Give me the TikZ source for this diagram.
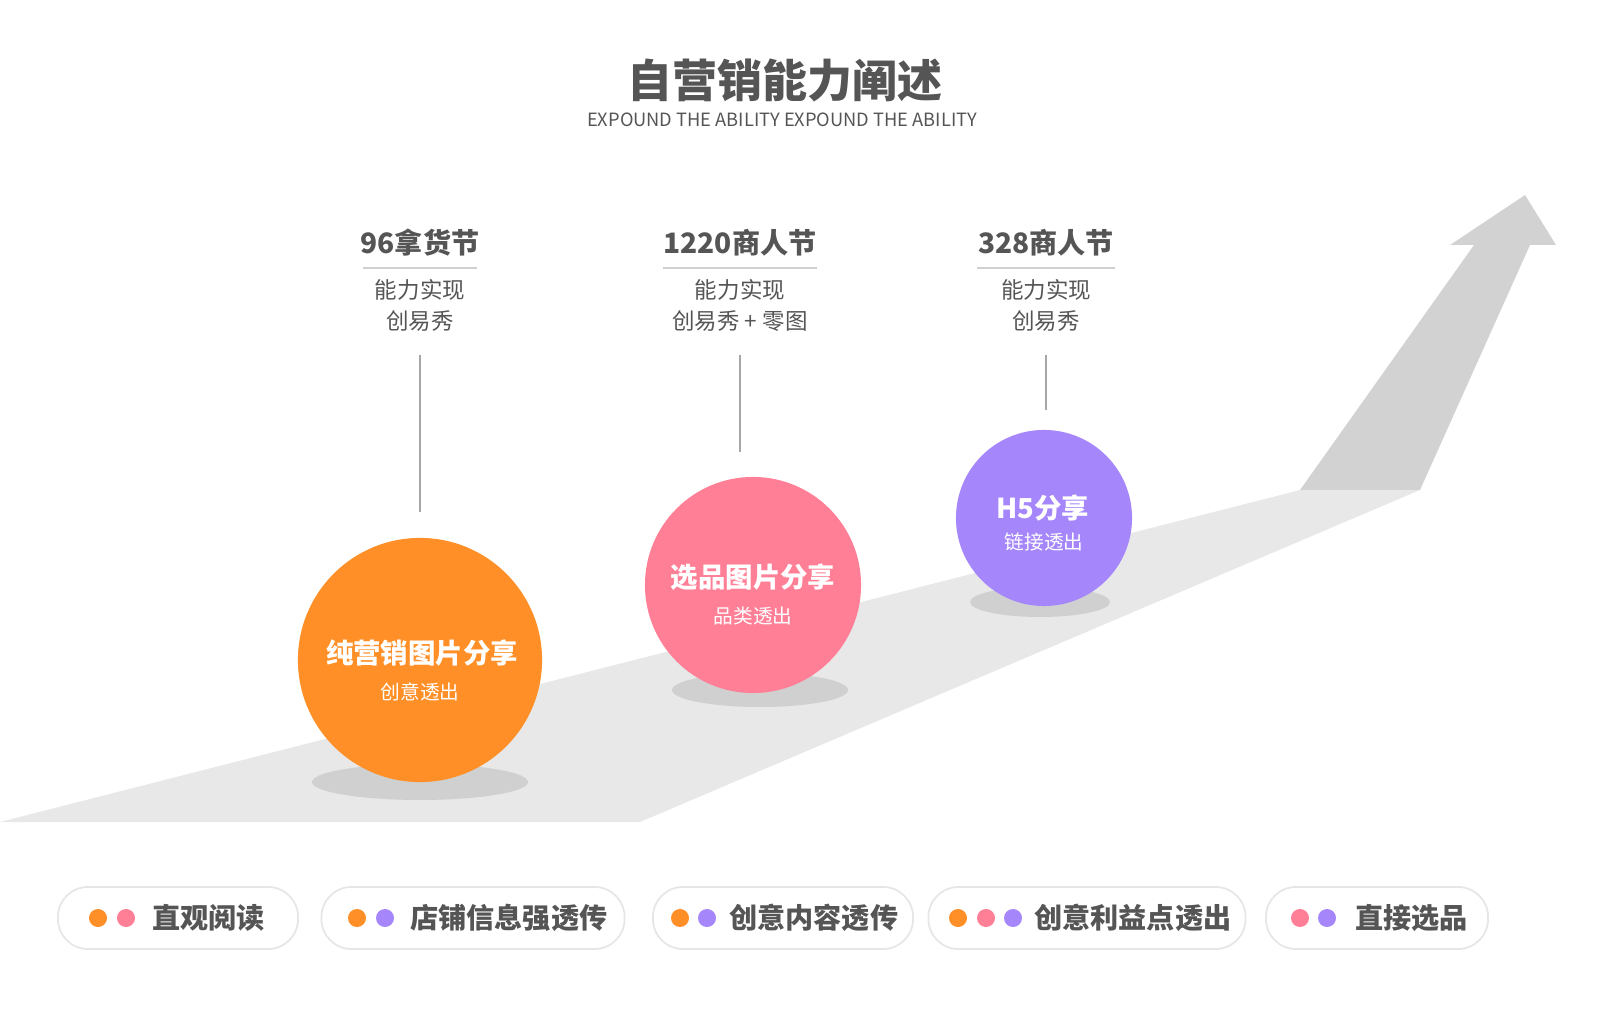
\documentclass[tikz,border=0pt]{standalone}
\usepackage{fontspec}
\setmainfont{Noto Sans CJK SC}
\usetikzlibrary{positioning}
\definecolor{txt}{HTML}{555555}
\definecolor{road}{HTML}{E8E8E8}
\definecolor{arr}{HTML}{D2D2D2}
\definecolor{shad}{HTML}{D0D0D0}
\definecolor{orng}{HTML}{FF8F26}
\definecolor{pnk}{HTML}{FF7F96}
\definecolor{prpl}{HTML}{A586FB}
\definecolor{pillline}{HTML}{E6E6E6}
\tikzset{
  evtitle/.style={font=\fontsize{8}{9}\selectfont\bfseries, text=txt},
  evline/.style={font=\fontsize{6.4}{9}\selectfont, text=txt, align=center},
  ball/.style={circle, minimum size=#1, inner sep=0pt, align=center, text=white},
  pill/.style={draw=pillline, line width=0.5pt, rounded corners=0.3cm, minimum height=0.62cm},
  dot/.style={circle, minimum size=0.18cm, inner sep=0pt},
  pilltext/.style={font=\fontsize{8}{9}\selectfont\bfseries, text=txt, anchor=west}
}
\begin{document}
\begin{tikzpicture}[x=0.01cm, y=-0.01cm]
  \useasboundingbox (0,0) rectangle (1600,1022);
  % road and arrow
  \fill[road](0,822)--(1300,490)--(1420,490)--(640,822)--cycle;
  \fill[arr](1300,490)--(1474,245)--(1450,245)--(1525,195)--(1556,245)
  --(1530,245)--(1420,490)--cycle;
  % title
  \node[font=\fontsize{12.8}{14}\selectfont\bfseries, text=txt] (title) at (785,80) {自营销能力阐述};
  \node[font=\fontsize{5.2}{6}\selectfont, text=txt] (sub) at (782,120) {EXPOUND THE ABILITY EXPOUND THE ABILITY};
  % events
  \foreach \x/\t/\b/\w [count=\i] in {420/96拿货节/创易秀/57, 740/1220商人节/创易秀 + 零图/77, 1046/328商人节/创易秀/69}{
    \node[evtitle] (ev\i) at (\x,243) {\t};
    \draw[shad, line width=0.6pt] (\x-\w,268)--(\x+\w,268);
    \node[evline] (evA\i) at (\x,290) {能力实现};
    \node[evline] (evB\i) at (\x,321) {\b};
  }
  \draw[shad!80!black, line width=0.5pt] (420,355)--(420,512);
  \draw[shad!80!black, line width=0.5pt] (740,355)--(740,452);
  \draw[shad!80!black, line width=0.5pt] (1046,355)--(1046,410);
  % shadows
  \fill[shad] (420,782) ellipse[x radius=108, y radius=18];
  \fill[shad] (760,690) ellipse[x radius=88, y radius=17];
  \fill[shad] (1040,602) ellipse[x radius=70, y radius=15];
  % balls
  \node[ball=2.44cm, fill=orng] (b1) at (420,660) {};
  \node[font=\fontsize{7.8}{9}\selectfont\bfseries, text=white] at (422,653) {纯营销图片分享};
  \node[font=\fontsize{5.6}{7}\selectfont, text=white] at (420,692) {创意透出};
  \node[ball=2.16cm, fill=pnk] (b2) at (753,585) {};
  \node[font=\fontsize{7.8}{9}\selectfont\bfseries, text=white] at (753,577) {选品图片分享};
  \node[font=\fontsize{5.6}{7}\selectfont, text=white] at (753,616) {品类透出};
  \node[ball=1.76cm, fill=prpl] (b3) at (1044,518) {};
  \node[font=\fontsize{7.8}{9}\selectfont\bfseries, text=white] at (1043,508) {H5分享};
  \node[font=\fontsize{5.6}{7}\selectfont, text=white] at (1044,542) {链接透出};
  % pills
  \node[pill, minimum width=2.40cm] (p1) at (178,918) {};
  \node[pill, minimum width=3.03cm] (p2) at (473,918) {};
  \node[pill, minimum width=2.60cm] (p3) at (783,918) {};
  \node[pill, minimum width=3.17cm] (p4) at (1087,918) {};
  \node[pill, minimum width=2.22cm] (p5) at (1377,918) {};
  \node[dot, fill=orng] at (98,918) {};  \node[dot, fill=pnk] at (126,918) {};
  \node[pilltext] at (140,918) {直观阅读};
  \node[dot, fill=orng] at (357,918) {}; \node[dot, fill=prpl] at (385,918) {};
  \node[pilltext] at (398,918) {店铺信息强透传};
  \node[dot, fill=orng] at (680,918) {}; \node[dot, fill=prpl] at (707,918) {};
  \node[pilltext] at (717,918) {创意内容透传};
  \node[dot, fill=orng] at (958,918) {}; \node[dot, fill=pnk] at (986,918) {};
  \node[dot, fill=prpl] at (1013,918) {};
  \node[pilltext] at (1022,918) {创意利益点透出};
  \node[dot, fill=pnk] at (1300,918) {}; \node[dot, fill=prpl] at (1327,918) {};
  \node[pilltext] at (1343,918) {直接选品};
\end{tikzpicture}
\end{document}
